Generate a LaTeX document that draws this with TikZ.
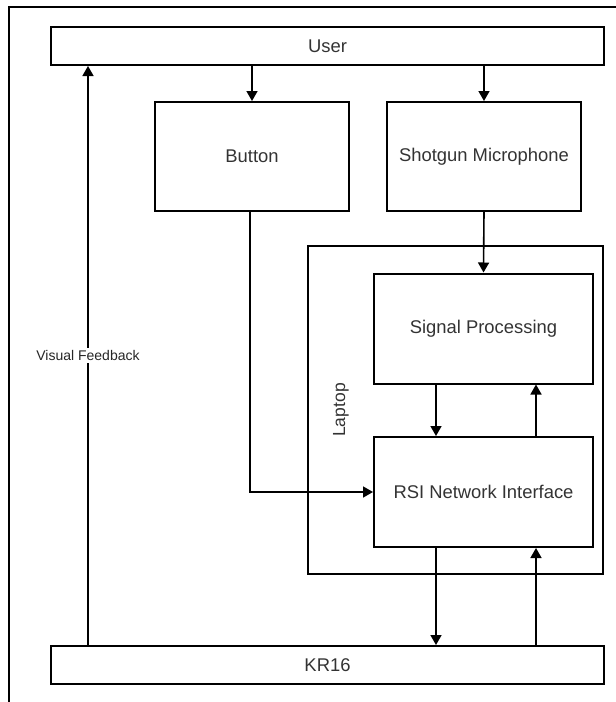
\documentclass[tikz,border=0pt]{standalone}
\usepackage{fontspec}
\setmainfont{Liberation Sans}
\usetikzlibrary{arrows.meta}
\begin{document}
\begin{tikzpicture}[x=1pt,y=-1pt,
  box/.style={draw=black,line width=2pt,inner sep=0pt,text=black!80,font=\fontsize{18.4}{20}\selectfont},
  conn/.style={draw=black,line width=1.6pt,-{Triangle[length=10pt,width=11pt]}},
  plain/.style={draw=black,line width=1.6pt}]
\useasboundingbox (0,0) rectangle (616,702);
\draw[line width=2.5pt] (9,702) -- (9,7) -- (616,7);
\node[box,minimum width=553pt,minimum height=38pt] (user) at (327.5,46) {User};
\node[box,minimum width=194pt,minimum height=109pt] (button) at (252,156.5) {Button};
\node[box,minimum width=194pt,minimum height=109pt] (mic) at (484,156.5) {Shotgun Microphone};
\node[box,minimum width=295pt,minimum height=328pt] (laptop) at (455.5,410) {};
\node[box,minimum width=219pt,minimum height=110pt] (sp) at (483.5,328.5) {Signal Processing};
\node[box,minimum width=219pt,minimum height=110pt] (rsi) at (483.5,492) {RSI Network Interface};
\node[box,minimum width=553pt,minimum height=38pt] (kr) at (327.5,665) {KR16};
\node[rotate=90,text=black!80,font=\fontsize{17.5}{19}\selectfont] (laptoplabel) at (341,410) {Laptop};
\coordinate (xa) at (436,0);
\coordinate (xb) at (536,0);
\coordinate (xv) at (88,0);
\draw[conn] (button.north |- user.south) -- (button.north);
\draw[conn] (mic.north |- user.south) -- (mic.north);
\draw[conn] (mic.south) -- (sp.north);
\draw[conn] ([xshift=-2pt]button.south) |- (rsi.west);
\draw[conn] (xa |- sp.south) -- (xa |- rsi.north);
\draw[conn] (xb |- rsi.north) -- (xb |- sp.south);
\draw[conn] (xa |- rsi.south) -- (xa |- kr.north);
\draw[conn] (xb |- kr.north) -- (xb |- rsi.south);
\draw[conn] (xv |- kr.north) -- node[fill=white,inner sep=2pt,text=black!85,font=\fontsize{14}{16}\selectfont] (vf) {Visual Feedback} (xv |- user.south);
\end{tikzpicture}
\end{document}
